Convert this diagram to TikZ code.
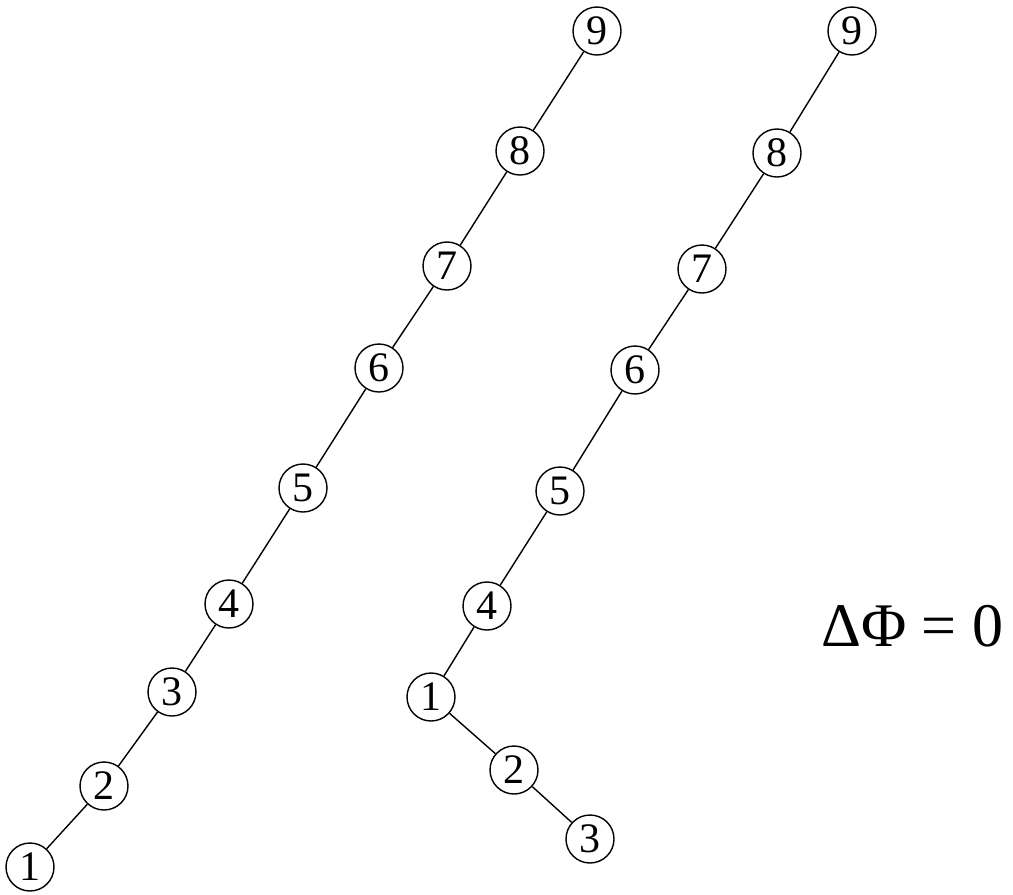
\documentclass[tikz,border=0pt]{standalone}
\usepackage{fontspec}
\setmainfont{Liberation Serif}
\begin{document}
\begin{tikzpicture}[x=1pt,y=-1pt,
  nd/.style={circle,draw,line width=1.4pt,minimum size=48pt,inner sep=0pt,
    font=\fontsize{42}{42}\selectfont},
  ln/.style={line width=1.4pt}]
\useasboundingbox (0,0) rectangle (1013,895);
% left tree
\node[nd] (a1) at (30,867) {1};
\node[nd] (a2) at (104,786) {2};
\node[nd] (a3) at (172,692) {3};
\node[nd] (a4) at (229,604) {4};
\node[nd] (a5) at (303,488) {5};
\node[nd] (a6) at (379,368) {6};
\node[nd] (a7) at (447,266) {7};
\node[nd] (a8) at (520,151) {8};
\node[nd] (a9) at (597,31) {9};
\draw[ln] (a1)--(a2) (a2)--(a3) (a3)--(a4) (a4)--(a5) (a5)--(a6) (a6)--(a7) (a7)--(a8) (a8)--(a9);
% right tree
\node[nd] (b9) at (852,31) {9};
\node[nd] (b8) at (777,153) {8};
\node[nd] (b7) at (702,269) {7};
\node[nd] (b6) at (635,370) {6};
\node[nd] (b5) at (560,491) {5};
\node[nd] (b4) at (487,606) {4};
\node[nd] (b1) at (431,697) {1};
\node[nd] (b2) at (514,770) {2};
\node[nd] (b3) at (590,839) {3};
\draw[ln] (b9)--(b8) (b8)--(b7) (b7)--(b6) (b6)--(b5) (b5)--(b4) (b4)--(b1) (b1)--(b2) (b2)--(b3);
\node[font=\fontsize{62}{62}\selectfont,inner sep=0pt,anchor=base west] (phi) at (821,646) {ΔΦ = 0};
\end{tikzpicture}
\end{document}
